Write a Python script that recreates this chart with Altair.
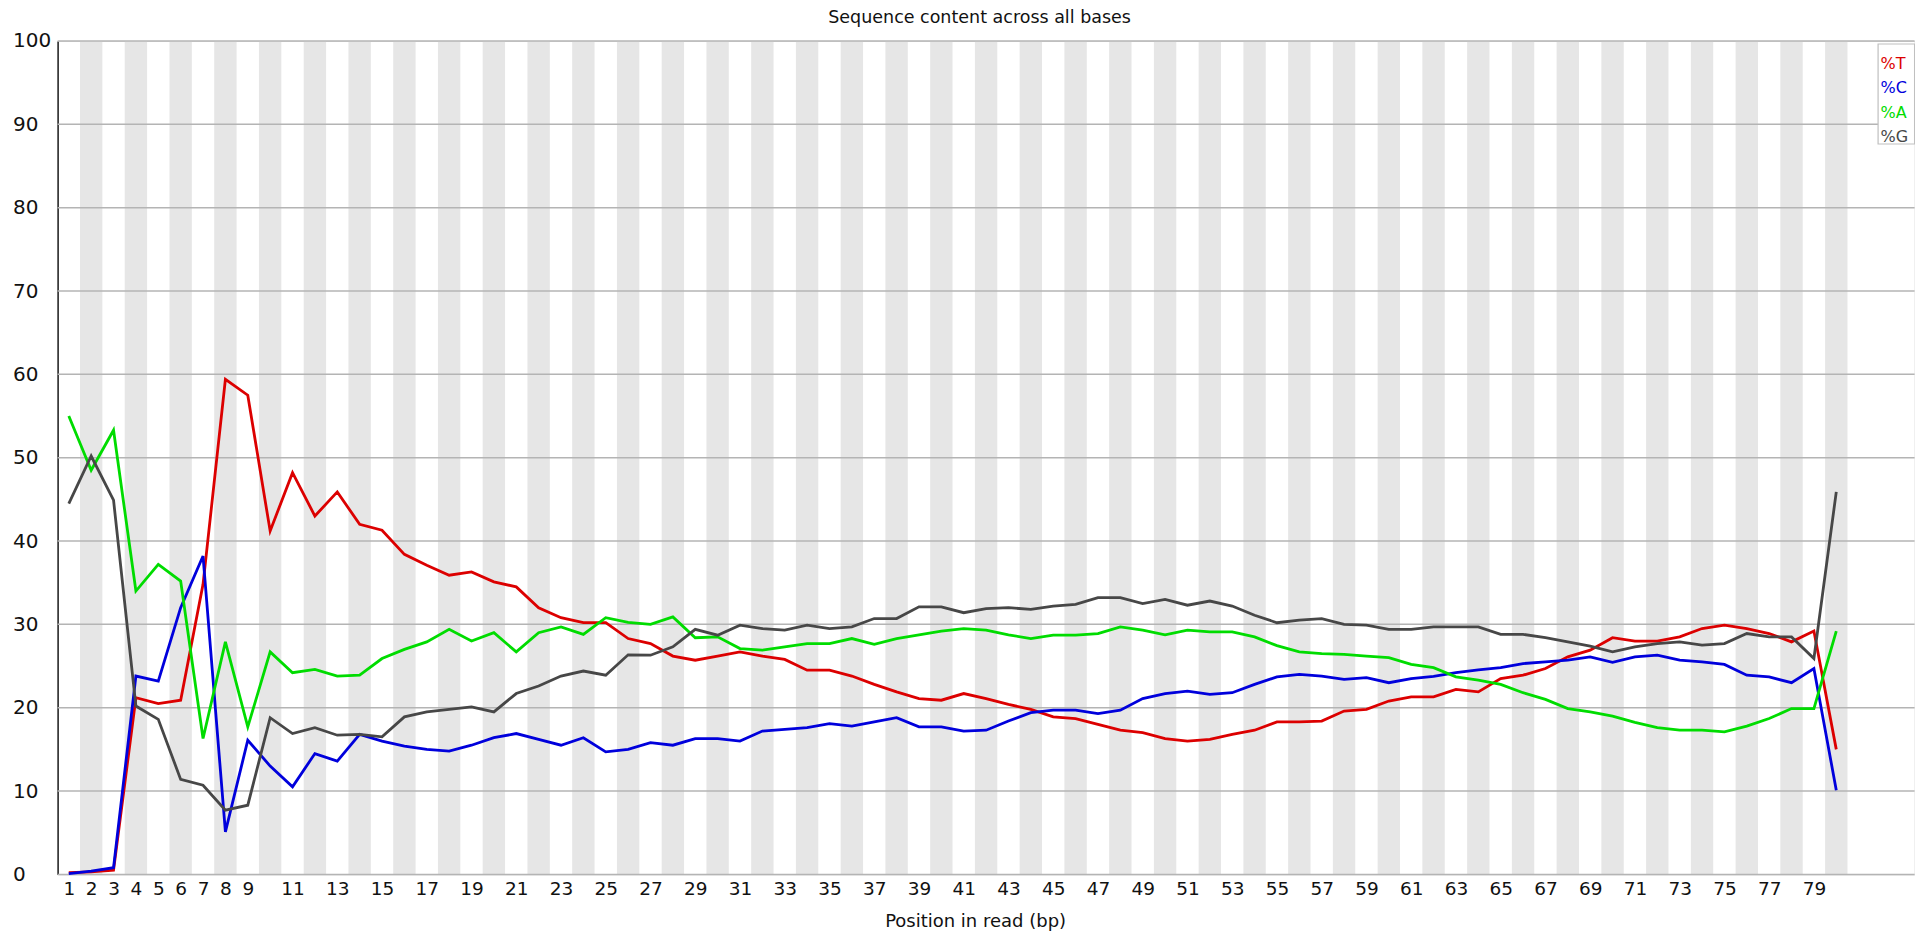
import altair as alt
import pandas as pd

positions = list(range(1, 81))

pct_T = [0.2, 0.3, 0.5, 21.2, 20.5, 20.9, 34.8, 59.4, 57.5, 41.2,
         48.2, 43.0, 45.9, 42.0, 41.3, 38.4, 37.1, 35.9, 36.3, 35.1,
         34.5, 32.0, 30.8, 30.2, 30.2, 28.3, 27.7, 26.2, 25.7, 26.2,
         26.7, 26.2, 25.8, 24.5, 24.5, 23.8, 22.8, 21.9, 21.1, 20.9,
         21.7, 21.1, 20.4, 19.8, 18.9, 18.7, 18.0, 17.3, 17.0, 16.3,
         16.0, 16.2, 16.8, 17.3, 18.3, 18.3, 18.4, 19.6, 19.8, 20.8,
         21.3, 21.3, 22.2, 21.9, 23.5, 23.9, 24.7, 26.1, 26.9, 28.4,
         28.0, 28.0, 28.5, 29.5, 29.9, 29.5, 28.9, 27.9, 29.2, 15.0]

pct_C = [0.1, 0.4, 0.8, 23.8, 23.2, 32.0, 38.2, 5.1, 16.1, 13.0,
         10.5, 14.5, 13.6, 16.8, 16.0, 15.4, 15.0, 14.8, 15.5, 16.4,
         16.9, 16.2, 15.5, 16.4, 14.7, 15.0, 15.8, 15.5, 16.3, 16.3,
         16.0, 17.2, 17.4, 17.6, 18.1, 17.8, 18.3, 18.8, 17.7, 17.7,
         17.2, 17.3, 18.4, 19.4, 19.7, 19.7, 19.3, 19.7, 21.1, 21.7,
         22.0, 21.6, 21.8, 22.8, 23.7, 24.0, 23.8, 23.4, 23.6, 23.0,
         23.5, 23.75, 24.2, 24.55, 24.8, 25.3, 25.5, 25.7, 26.1, 25.45,
         26.1, 26.3, 25.7, 25.5, 25.2, 23.9, 23.7, 23.0, 24.7, 10.1]

pct_A = [55.0, 48.5, 53.3, 34.0, 37.2, 35.2, 16.3, 27.9, 17.7, 26.7,
         24.2, 24.6, 23.8, 23.9, 25.9, 27.0, 27.9, 29.4, 28.0, 29.0,
         26.7, 29.0, 29.7, 28.8, 30.8, 30.25, 30.0, 30.9, 28.4, 28.5,
         27.1, 26.9, 27.3, 27.7, 27.7, 28.3, 27.6, 28.3, 28.75, 29.2,
         29.5, 29.3, 28.75, 28.3, 28.7, 28.7, 28.9, 29.7, 29.3, 28.75,
         29.3, 29.1, 29.1, 28.5, 27.45, 26.7, 26.5, 26.4, 26.2, 26.0,
         25.2, 24.8, 23.7, 23.3, 22.8, 21.8, 21.0, 19.9, 19.5, 19.0,
         18.25, 17.6, 17.3, 17.3, 17.1, 17.8, 18.7, 19.9, 19.9, 29.2]

pct_G = [44.5, 50.2, 44.9, 20.2, 18.6, 11.4, 10.7, 7.7, 8.3, 18.8,
         16.9, 17.6, 16.7, 16.8, 16.5, 18.9, 19.5, 19.8, 20.1, 19.5,
         21.7, 22.6, 23.8, 24.4, 23.9, 26.35, 26.3, 27.3, 29.4, 28.7,
         29.9, 29.5, 29.3, 29.9, 29.5, 29.7, 30.7, 30.7, 32.1, 32.1,
         31.4, 31.9, 32.0, 31.8, 32.2, 32.4, 33.2, 33.2, 32.5, 33.0,
         32.3, 32.8, 32.2, 31.1, 30.2, 30.5, 30.7, 30.0, 29.9, 29.4,
         29.4, 29.7, 29.7, 29.7, 28.8, 28.8, 28.4, 27.9, 27.4, 26.7,
         27.3, 27.7, 27.9, 27.5, 27.7, 28.9, 28.5, 28.5, 25.9, 45.9]

series_names = ["%T", "%C", "%A", "%G"]
series_values = [pct_T, pct_C, pct_A, pct_G]
series_colors = ["#dc0000", "#0000dc", "#00dc00", "#474747"]

x_tick_values = [1, 2, 3, 4, 5, 6, 7, 8, 9] + list(range(11, 80, 2))
y_tick_values = list(range(0, 101, 10))

chart_title = "Sequence content across all bases"
x_title = "Position in read (bp)"

FONT = "DejaVu Sans"
X_DOMAIN = [0.5, 83.5]
W, H = 1857, 833.4

xscale = alt.Scale(domain=X_DOMAIN, nice=False, zero=False)
yscale = alt.Scale(domain=[0, 100], nice=False)

# alternating grey bands on even positions
band_df = pd.DataFrame({"pos": [p for p in positions if p % 2 == 0]})
bands = alt.Chart(band_df).transform_calculate(
    x0="datum.pos - 0.5", x1="datum.pos + 0.5", y0="0", y1="100"
).mark_rect(color="#e6e6e6").encode(
    x=alt.X("x0:Q", scale=xscale,
            axis=alt.Axis(values=x_tick_values, format="d", ticks=False, tickSize=0,
                          domain=False, grid=False, labelPadding=5,
                          labelFontSize=18.5, labelFont=FONT, labelColor="#111111",
                          labelFlush=False, labelOverlap=False, title=None)),
    x2="x1:Q",
    y=alt.Y("y0:Q", scale=yscale,
            axis=alt.Axis(values=y_tick_values, labelAlign="left", labelBaseline="middle",
                          labelPadding=45, ticks=False, tickSize=0, grid=False,
                          domain=True, domainColor="#1e1e1e", domainWidth=1.5,
                          labelFontSize=20, labelFont=FONT, labelColor="#111111",
                          labelFlush=False, title=None)),
    y2="y1:Q",
)

grid_df = pd.DataFrame({"v": y_tick_values})
grid = alt.Chart(grid_df).mark_rule(color="#b4b4b4", strokeWidth=1.5).encode(
    y=alt.Y("v:Q", scale=yscale)
)

line_layers = []
for name, vals, col in zip(series_names, series_values, series_colors):
    df = pd.DataFrame({"pos": positions, "pct": vals})
    line_layers.append(
        alt.Chart(df).mark_line(color=col, strokeWidth=2.8, strokeJoin="miter").encode(
            x=alt.X("pos:Q", scale=xscale),
            y=alt.Y("pct:Q", scale=yscale),
        )
    )

# legend box + entries (top right, inside plot)
legend_box = alt.Chart(pd.DataFrame({"k": [0]})).mark_rect(
    fill="white", stroke="#c0c0c0", strokeWidth=1.2
).encode(
    x=alt.value(W - 36.5), x2=alt.value(W), y=alt.value(3), y2=alt.value(103)
)
legend_texts = []
for i, (name, col) in enumerate(zip(series_names, series_colors)):
    legend_texts.append(
        alt.Chart(pd.DataFrame({"label": [name]})).mark_text(
            align="left", baseline="middle", font=FONT, fontSize=16, color=col
        ).encode(x=alt.value(W - 34), y=alt.value(23 + i * 24.5), text="label:N")
    )

# chart title and x-axis title as text
title_mark = alt.Chart(pd.DataFrame({"t": [chart_title]})).mark_text(
    align="center", baseline="alphabetic", font=FONT, fontSize=17.5, color="#111111"
).encode(x=alt.value(922), y=alt.value(-18), text="t:N")

xtitle_mark = alt.Chart(pd.DataFrame({"t": [x_title]})).mark_text(
    align="center", baseline="alphabetic", font=FONT, fontSize=18, color="#111111"
).encode(x=alt.value(918), y=alt.value(H + 52.5), text="t:N")

chart = alt.layer(bands, grid, *line_layers, legend_box, *legend_texts,
                  title_mark, xtitle_mark).properties(
    width=W,
    height=H,
    padding={"left": 49.6, "top": 33, "right": 0, "bottom": 57},
    autosize=alt.AutoSizeParams(type="none"),
).configure_view(stroke=None).configure(background="white")

chart.save("out.html", embed_options={"renderer": "svg", "actions": False})
